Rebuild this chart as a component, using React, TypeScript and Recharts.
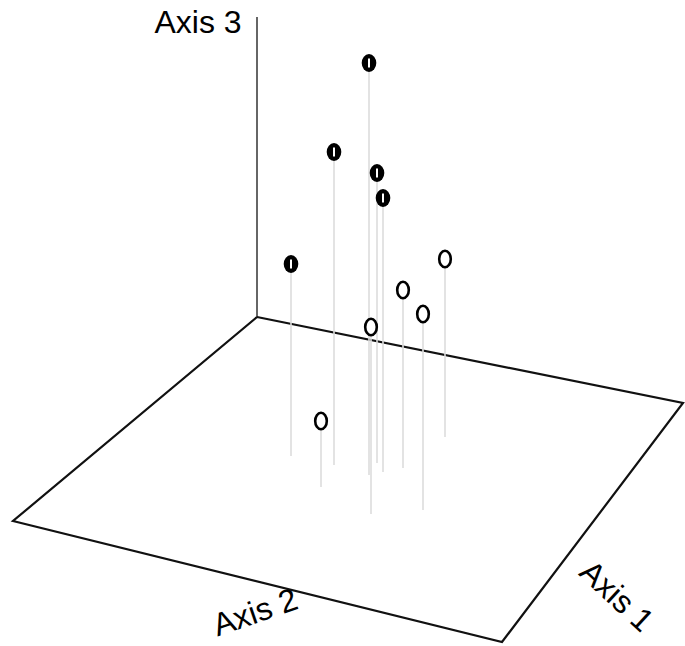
import React from 'react';
import { ScatterChart, Scatter, XAxis, YAxis } from 'recharts';

// screen-space projection of the 3D ordination (x to the right, y downward)
const pointX = [369, 334, 377, 383, 291, 445, 403, 423, 371, 321];
const pointTop = [63, 152, 173, 198, 264, 259, 290, 314, 327, 421];
const pointBase = [475, 465, 463, 472, 456, 437, 468, 510, 514, 487];
const pointGroup = ['filled', 'filled', 'filled', 'filled', 'filled', 'open', 'open', 'open', 'open', 'open'];

const planeX = [257, 13, 502, 683, 257];
const planeY = [317, 521, 642, 403, 317];

const verticalAxisX = [257, 257];
const verticalAxisY = [17, 317];

const labelText = ['Axis 3', 'Axis 2', 'Axis 1'];
const labelX = [198, 255, 617];
const labelY = [22, 612, 596];
const labelAngle = [0, -19, 43];

const W = 685;
const H = 646;

const planeData = planeX.map((x, i) => ({ x, y: planeY[i] }));
const axis3Data = verticalAxisX.map((x, i) => ({ x, y: verticalAxisY[i] }));
const points = pointX.map((x, i) => ({ x, y: pointTop[i], base: pointBase[i], group: pointGroup[i] }));
const labels = labelText.map((text, i) => ({ x: labelX[i], y: labelY[i], text, angle: labelAngle[i] }));

const NoShape = () => <g />;

const PointShape = (props: any) => {
  const { cx, cy, payload } = props;
  if (payload.group === 'filled') {
    return (
      <g>
        <ellipse cx={cx} cy={cy} rx={7.3} ry={9} fill="#000" />
        <rect x={cx - 1} y={cy - 4.5} width={2} height={9} fill="#fff" />
      </g>
    );
  }
  return <ellipse cx={cx} cy={cy} rx={5.8} ry={8.2} fill="#fff" stroke="#000" strokeWidth={2.6} />;
};

const LabelShape = (props: any) => {
  const { cx, cy, payload } = props;
  return (
    <text
      x={cx}
      y={cy}
      textAnchor="middle"
      dominantBaseline="central"
      fontFamily="'Liberation Sans', Arial, sans-serif"
      fontSize={32}
      fill="#000"
      transform={`rotate(${payload.angle} ${cx} ${cy})`}
    >
      {payload.text}
    </text>
  );
};

export default function App() {
  return (
    <div style={{ position: 'absolute', left: 0, top: 0, width: W, height: H, background: '#fff' }}>
      <ScatterChart width={W} height={H} margin={{ top: 0, right: 0, bottom: 0, left: 0 }}>
        <XAxis dataKey="x" type="number" domain={[0, W]} hide />
        <YAxis dataKey="y" type="number" domain={[0, H]} reversed hide />
        <Scatter
          data={axis3Data}
          line={{ stroke: '#666', strokeWidth: 2 }}
          lineType="joint"
          shape={NoShape}
          isAnimationActive={false}
        />
        <Scatter
          data={planeData}
          line={{ stroke: '#111', strokeWidth: 2.2 }}
          lineType="joint"
          shape={NoShape}
          isAnimationActive={false}
        />
        {points.map((p, i) => (
          <Scatter
            key={`drop-${i}`}
            data={[{ x: p.x, y: p.y }, { x: p.x, y: p.base }]}
            line={{ stroke: '#dcdcdc', strokeWidth: 1.6 }}
            lineType="joint"
            shape={NoShape}
            isAnimationActive={false}
          />
        ))}
        <Scatter data={points} shape={PointShape} isAnimationActive={false} />
        <Scatter data={labels} shape={LabelShape} isAnimationActive={false} />
      </ScatterChart>
    </div>
  );
}
